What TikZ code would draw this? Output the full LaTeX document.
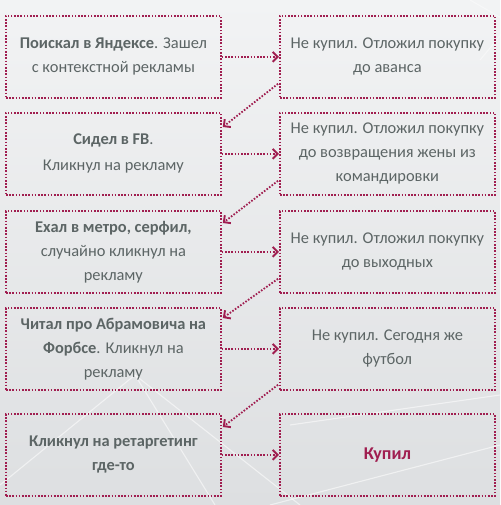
\documentclass[tikz,border=0pt]{standalone}
\usepackage{fontspec}
\setmainfont{Carlito}
\usetikzlibrary{arrows.meta,calc}
\definecolor{crim}{HTML}{A01E50}
\definecolor{txt}{HTML}{5C6565}
\definecolor{bgA}{HTML}{F2F3F4}
\definecolor{bgB}{HTML}{DDDFE1}
\tikzset{
  box/.style={draw=crim, line width=1.8pt, dash pattern=on 1.6pt off 1.6pt,
    minimum width=215pt, minimum height=82pt, anchor=north west,
    inner sep=2pt, align=center, text=txt, font=\fontsize{16.4}{24}\selectfont},
  conn/.style={draw=crim, line width=1.8pt, dash pattern=on 1.6pt off 1.6pt,
    -{Straight Barb[length=5pt,width=10pt,line width=1.9pt]}},
  bgline/.style={white, line width=1.1pt, opacity=0.55}
}
\begin{document}
\begin{tikzpicture}[x=1pt,y=-1pt]
\useasboundingbox (0,0) rectangle (500,505);
\shade[top color=bgA, bottom color=bgB] (0,0) rectangle (500,505);
% faint decorative background lines
\draw[bgline] (0,485) -- (135,375) -- (300,505);
\draw[bgline] (135,375) -- (215,505);
\draw[bgline] (290,425) -- (500,395);
\draw[bgline] (270,505) -- (500,445);
\draw[bgline, opacity=0.4] (470,0) -- (540,40);
\draw[bgline, opacity=0.4] (530,0) -- (480,60);
% boxes
\node[box] (L1) at (5,15)  {\textbf{Поискал в Яндексе}. Зашел\\с контекстной рекламы};
\node[box] (R1) at (279,15) {Не купил. Отложил покупку\\до аванса};
\node[box] (L2) at (5,112) {\textbf{Сидел в FB}.\\[2pt]Кликнул на рекламу};
\node[box] (R2) at (279,112) {Не купил. Отложил покупку\\до возвращения жены из\\командировки};
\node[box] (L3) at (5,210) {\textbf{Ехал в метро, серфил,}\\случайно кликнул на\\рекламу};
\node[box] (R3) at (279,210) {Не купил. Отложил покупку\\до выходных};
\node[box] (L4) at (5,307) {\textbf{Читал про Абрамовича на}\\\textbf{Форбсе}. Кликнул на\\рекламу};
\node[box] (R4) at (279,307) {Не купил. Сегодня же\\футбол};
\node[box] (L5) at (5,413) {\textbf{Кликнул на ретаргетинг}\\\textbf{где-то}};
\node[box, text=crim, font=\bfseries\fontsize{18}{24}\selectfont] (R5) at (279,413) {Купил};
% horizontal arrows
\foreach \i in {1,...,5} {
  \draw[conn] (L\i.east) -- (R\i.west);
}
% diagonal arrows
\draw[conn] ($(R1.south west)+(-1,-15)$) -- ($(L2.north east)+(1,15)$);
\draw[conn] ($(R2.south west)+(-1,-15)$) -- ($(L3.north east)+(1,13)$);
\draw[conn] ($(R3.south west)+(-1,-15)$) -- ($(L4.north east)+(1,11)$);
\draw[conn] ($(R4.south west)+(-1,-6)$) -- ($(L5.north east)+(1,14)$);
\end{tikzpicture}
\end{document}
